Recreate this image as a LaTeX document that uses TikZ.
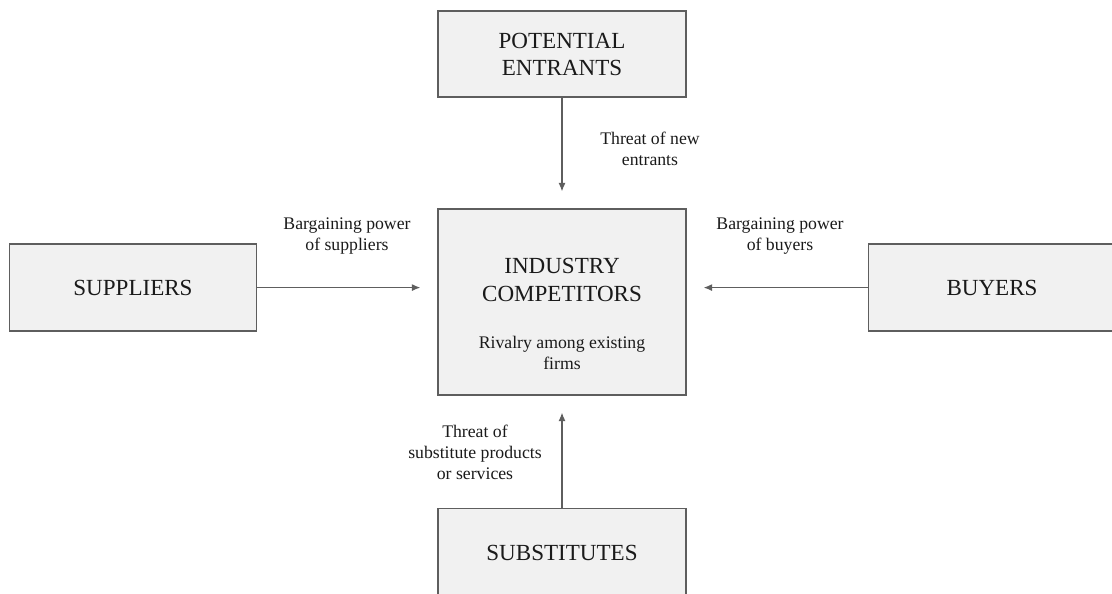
\documentclass[tikz,border=0pt]{standalone}
\usepackage{fontspec}
\setmainfont{Liberation Serif}
\usetikzlibrary{positioning,arrows.meta}
\definecolor{edge}{HTML}{5E5E5E}
\definecolor{boxfill}{HTML}{F1F1F1}
\definecolor{ink}{HTML}{1A1A1A}

\begin{document}
\begin{tikzpicture}[x=0.025cm, y=-0.025cm,
      big/.style={align=center, font=\fontsize{16.4}{19.4}\selectfont, text=ink},
      force/.style={big, draw=edge, fill=boxfill, line width=1pt, minimum width=6.2cm, minimum height=2.2cm},
      note/.style={align=center, font=\fontsize{12.6}{14.9}\selectfont, text=ink},
      arr/.style={-{Latex[length=6pt, width=5pt]}, edge, line width=0.9pt, shorten >=12pt}]
    \useasboundingbox (0,0) rectangle (1112,593);
    \clip (0,0) rectangle (1112,593);
    \node[force, minimum height=4.65cm] (comp) at (562,302) {};
    \node[force, minimum height=2.15cm, above=2.76cm of comp] (ent) {POTENTIAL\\ENTRANTS};
    \node[force, below=2.8cm of comp] (subs) {SUBSTITUTES};
    \node[force, minimum width=6.175cm, minimum height=2.175cm, left=4.5cm of comp, yshift=0.36cm] (sup) {SUPPLIERS};
    \node[force, minimum width=6.175cm, minimum height=2.175cm, right=4.525cm of comp, yshift=0.36cm] (buy) {BUYERS};
    \node[big] (title) at (562,280) {INDUSTRY\\COMPETITORS};
    \node[note] (rival) at (562,353) {Rivalry among existing\\firms};
    \draw[arr] (ent) -- (comp); \draw[arr] (subs) -- (comp);
    \draw[arr] (sup) -- (sup -| comp.west); \draw[arr] (buy) -- (buy -| comp.east);
    \node[note] (tnew) at (650,149) {Threat of new\\entrants};
    \node[note] (bsup) at (347,236) {Bargaining power\\of suppliers};
    \node[note] (bbuy) at (780,236) {Bargaining power\\of buyers};
    \node[note] (tsub) at (475,452) {Threat of\\substitute products\\or services};
  \end{tikzpicture}
\end{document}
